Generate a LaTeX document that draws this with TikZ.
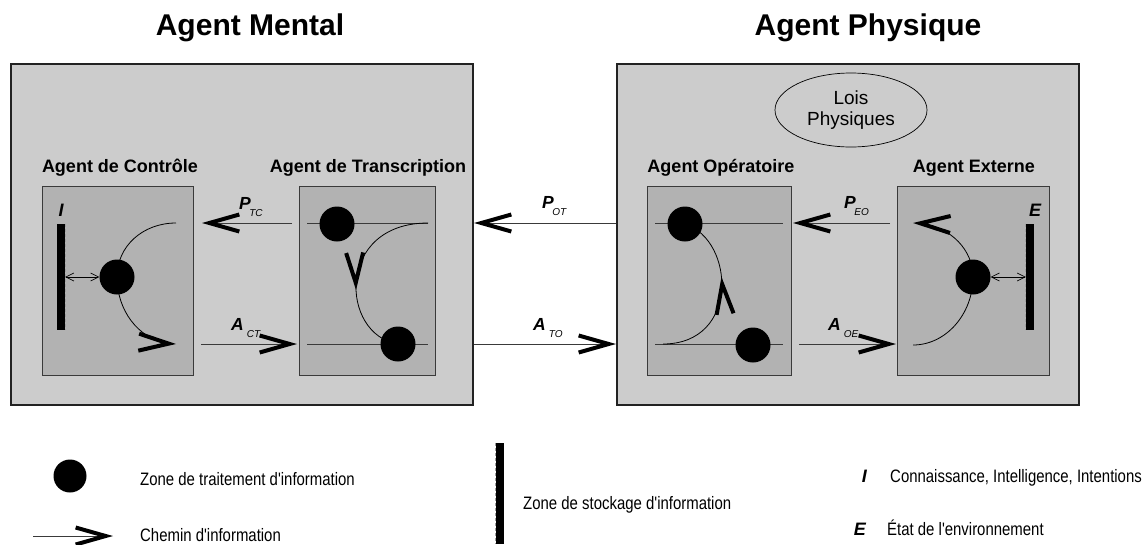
\documentclass[tikz,border=0pt]{standalone}
\usepackage{fontspec}
\setmainfont{Liberation Sans}
\newfontfamily\narrowfont[FakeStretch=0.83]{Liberation Sans}
\usetikzlibrary{arrows.meta,bending,shapes.geometric,decorations.markings}

\definecolor{outerfill}{HTML}{CCCCCC}
\definecolor{innerfill}{HTML}{B2B2B2}
\definecolor{edgecol}{HTML}{222222}
\definecolor{linegray}{HTML}{3A3A3A}

\newcommand\flowlabel[3]{{\fontsize{17.5}{17.5}\selectfont\bfseries\itshape #1}\kern#2\raisebox{-7pt}{\fontsize{10}{10}\selectfont\itshape #3}}

\tikzset{
  outerbox/.style={draw=edgecol, line width=2pt, fill=outerfill, minimum width=462pt, minimum height=341pt, inner sep=0pt},
  innerbox/.style={draw=linegray, line width=0.8pt, fill=innerfill, minimum height=189pt, inner sep=0pt},
  ball/.style={circle, fill=black, minimum size=35pt, inner sep=0pt},
  storebar/.style={fill=black, minimum width=8pt, inner sep=0pt},
  baredge/.style={draw=gray!75, dash pattern=on 3pt off 2pt, line width=0.7pt},
  flow/.style={draw=linegray, line width=0.9pt, -{Straight Barb[length=30pt,width=17pt,line width=4pt,color=black]}},
  plainline/.style={draw=linegray, line width=0.9pt},
  curveline/.style={draw=black, line width=0.8pt},
  flexarrow/.style={-{Straight Barb[length=30pt,width=17pt,line width=4pt,flex]}},
  midarrow/.style={postaction={decorate}, decoration={markings, mark=at position #1 with {\arrow{Straight Barb[length=30pt,width=17pt,line width=4pt]}}}},
  dblarrow/.style={draw=black, line width=0.6pt, {Straight Barb[length=8pt,width=8pt,line width=0.6pt]}-{Straight Barb[length=8pt,width=8pt,line width=0.6pt]}},
  titletext/.style={font=\fontsize{30}{30}\selectfont\bfseries, inner sep=0pt, anchor=base},
  subtitletext/.style={font=\fontsize{18}{18}\selectfont\bfseries, inner sep=0pt, anchor=base},
  legendtext/.style={font=\narrowfont\fontsize{18}{18}\selectfont, inner sep=0pt, anchor=base west},
  symbtext/.style={font=\fontsize{18}{18}\selectfont\bfseries\itshape, inner sep=0pt},
  flowlab/.style={inner sep=0pt, anchor=base west},
  lawell/.style={ellipse, draw=black, line width=0.7pt, minimum width=152pt, minimum height=74pt, inner sep=0pt, align=center, font=\fontsize{19}{21}\selectfont}
}

\begin{document}
\begin{tikzpicture}[x=1pt,y=1pt]
\useasboundingbox (0,0) rectangle (1145,-544);

% titles
\node[titletext] (tmental) at (250,-35) {Agent Mental};
\node[titletext] (tphys) at (868,-35) {Agent Physique};

% outer boxes
\node[outerbox] (mental) at (242,-234.5) {};
\node[outerbox] (phys) at (848,-234.5) {};
\node[lawell] (lois) at (851,-110) {Lois\\Physiques};

% sub titles
\node[subtitletext] (sctrl) at (120,-172) {Agent de Contrôle};
\node[subtitletext] (strans) at (368,-172) {Agent de Transcription};
\node[subtitletext] (soper) at (721,-172) {Agent Opératoire};
\node[subtitletext] (sext) at (974,-172) {Agent Externe};

% inner boxes
\node[innerbox, minimum width=151pt] (ctrl) at (117.5,-280.5) {};
\node[innerbox, minimum width=136pt] (trans) at (367,-280.5) {};
\node[innerbox, minimum width=144pt] (oper) at (719,-280.5) {};
\node[innerbox, minimum width=152pt] (ext) at (973,-280.5) {};

% coordinates
\coordinate (ctop) at (176,-223);
\coordinate (cbot) at (176,-344);
\coordinate (tA) at (307,-223);
\coordinate (tB) at (428,-223);
\coordinate (tC) at (307,-344);
\coordinate (tD) at (428,-344);
\coordinate (oA) at (655,-223);
\coordinate (oB) at (783,-223);
\coordinate (oC) at (655,-344);
\coordinate (oD) at (783,-344);
\coordinate (ostart) at (663,-344);
\coordinate (etop) at (913,-223);
\coordinate (ebot) at (913,-345);

% lines inside boxes
\draw[plainline] (tA) -- (tB);
\draw[plainline] (tC) -- (tD);
\draw[plainline] (oA) -- (oB);
\draw[plainline] (oC) -- (oD);

% storage bars
\node[storebar, minimum height=106pt] (ibar) at (61,-277) {};
\draw[baredge] (ibar.north east) -- (ibar.south east);
\node[storebar, minimum height=106pt] (ebar) at (1030,-277) {};
\draw[baredge] (ebar.north west) -- (ebar.south west);
\node[symbtext, anchor=base] (ilab) at (61,-216) {I};
\node[symbtext, anchor=base] (elab) at (1035,-216) {E};

% balls
\node[ball] (C) at (117,-277) {};
\node[ball] (T1) at (337,-224) {};
\node[ball] (T2) at (398,-344) {};
\node[ball] (O1) at (685,-224) {};
\node[ball] (O2) at (753,-345) {};
\node[ball] (E) at (973,-277) {};

% double arrows
\draw[dblarrow] (ibar.east) -- (C.west);
\draw[dblarrow] (E.east) -- (ebar.west);

% curves
\draw[curveline] (ctop) .. controls +(-33,0) and +(0,31) .. (C.center);
\draw[curveline, flexarrow] (C.center) .. controls +(0,-37) and +(-33,0) .. (cbot);
\draw[curveline, midarrow=0.6] (tB) .. controls +(-93,0) and +(-58,9) .. (T2.center);
\draw[curveline, midarrow=0.6] (ostart) .. controls +(77,0) and +(50,-16) .. (O1.center);
\draw[curveline] (ebot) .. controls +(33,0) and +(0,-37) .. (E.center);
\draw[curveline, flexarrow] (E.center) .. controls +(0,30) and +(33,0) .. (etop);

% flow connectors
\coordinate (ptcS) at (292,-223);
\coordinate (ptcE) at (202,-223);
\coordinate (actS) at (201,-344);
\coordinate (actE) at (297,-344);
\coordinate (peoS) at (890,-223);
\coordinate (peoE) at (793,-223);
\coordinate (aoeS) at (799,-344);
\coordinate (aoeE) at (896,-344);
\draw[flow] (ptcS) -- (ptcE);
\draw[flow] (actS) -- (actE);
\draw[flow] (phys.west |- tA) -- (mental.east |- tA);
\draw[flow] (mental.east |- tC) -- (phys.west |- tC);
\draw[flow] (peoS) -- (peoE);
\draw[flow] (aoeS) -- (aoeE);

% flow labels
\node[flowlab] (lptc) at (239,-209) {\flowlabel{P}{-1.5pt}{TC}};
\node[flowlab] (lact) at (231,-330) {\flowlabel{A}{3pt}{CT}};
\node[flowlab] (lpot) at (542,-208) {\flowlabel{P}{-1.5pt}{OT}};
\node[flowlab] (lato) at (533,-330) {\flowlabel{A}{3pt}{TO}};
\node[flowlab] (lpeo) at (844,-208) {\flowlabel{P}{-1.5pt}{EO}};
\node[flowlab] (laoe) at (828,-330) {\flowlabel{A}{3pt}{OE}};

% legend
\node[ball, minimum size=33pt] (lball) at (70,-476) {};
\node[legendtext] (leg1) at (140,-485) {Zone de traitement d'information};
\coordinate (legA) at (33,-536);
\coordinate (legB) at (113,-536);
\draw[flow] (legA) -- (legB);
\node[legendtext] (leg2) at (140,-541) {Chemin d'information};
\node[storebar, minimum height=101pt] (legbar) at (500,-493.5) {};
\draw[baredge] (legbar.north west) -- (legbar.south west);
\node[legendtext] (leg3) at (523,-509) {Zone de stockage d'information};
\node[symbtext, anchor=base east] (legi) at (867,-482) {I};
\node[legendtext] (leg4) at (890,-482) {Connaissance, Intelligence, Intentions};
\node[symbtext, anchor=base east] (lege) at (866,-535) {E};
\node[legendtext] (leg5) at (887,-535) {État de l'environnement};
\end{tikzpicture}
\end{document}
